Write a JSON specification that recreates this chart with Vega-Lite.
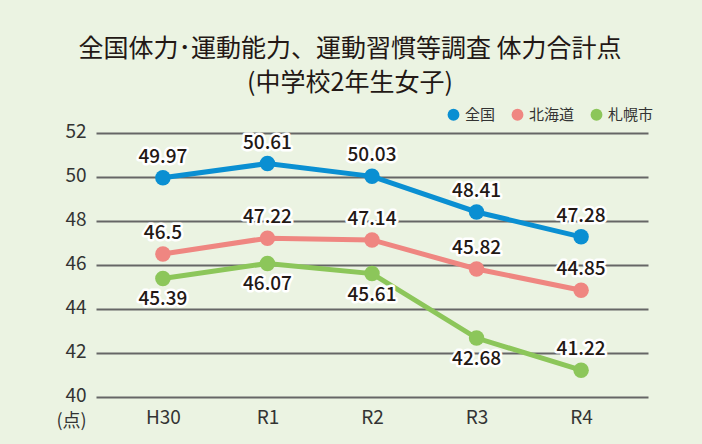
{
  "$schema": "https://vega.github.io/schema/vega-lite/v6.json",
  "autosize": {"type": "none"},
  "width": 552,
  "height": 264,
  "padding": {"left": 96, "top": 133, "right": 54, "bottom": 47},
  "background": "#ebf3e2",
  "config": {
    "font": "Noto Sans CJK JP",
    "view": {"stroke": null}
  },
  "title": {
    "text": ["全国体力･運動能力、運動習慣等調査 体力合計点", "(中学校2年生女子)"],
    "fontSize": 25,
    "fontWeight": "normal",
    "color": "#231815",
    "lineHeight": 34,
    "anchor": "middle",
    "dx": -22,
    "offset": 11
  },
  "data": {
    "values": [
      {"year": "H30", "series": "全国", "value": 49.97},
      {"year": "R1", "series": "全国", "value": 50.61},
      {"year": "R2", "series": "全国", "value": 50.03},
      {"year": "R3", "series": "全国", "value": 48.41},
      {"year": "R4", "series": "全国", "value": 47.28},
      {"year": "H30", "series": "北海道", "value": 46.5},
      {"year": "R1", "series": "北海道", "value": 47.22},
      {"year": "R2", "series": "北海道", "value": 47.14},
      {"year": "R3", "series": "北海道", "value": 45.82},
      {"year": "R4", "series": "北海道", "value": 44.85},
      {"year": "H30", "series": "札幌市", "value": 45.39},
      {"year": "R1", "series": "札幌市", "value": 46.07},
      {"year": "R2", "series": "札幌市", "value": 45.61},
      {"year": "R3", "series": "札幌市", "value": 42.68},
      {"year": "R4", "series": "札幌市", "value": 41.22}
    ]
  },
  "encoding": {
    "x": {
      "field": "year",
      "type": "ordinal",
      "scale": {"type": "point", "padding": 0.64},
      "axis": {
        "title": null,
        "labelAngle": 0,
        "labelFontSize": 19,
        "labelColor": "#333",
        "labelPadding": 11,
        "domain": false,
        "ticks": false,
        "grid": false
      }
    },
    "y": {
      "field": "value",
      "type": "quantitative",
      "scale": {"domain": [40, 52], "nice": false, "zero": false},
      "axis": {
        "values": [40, 42, 44, 46, 48, 50, 52],
        "title": "(点)",
        "titleAngle": 0,
        "titleFontSize": 18,
        "titleFontWeight": "normal",
        "titleColor": "#333",
        "titleAlign": "center",
        "titleBaseline": "middle",
        "titleX": -25,
        "titleY": 288,
        "labelFontSize": 19,
        "labelColor": "#333",
        "labelPadding": 10,
        "labelBaseline": "middle",
        "labelOffset": -2,
        "domain": false,
        "ticks": false,
        "grid": true,
        "gridColor": "#666",
        "gridWidth": 1.8,
        "gridOpacity": 1
      }
    }
  },
  "layer": [
    {
      "mark": {"type": "line", "strokeWidth": 5},
      "encoding": {
        "color": {
          "field": "series",
          "type": "nominal",
          "scale": {"domain": ["全国", "北海道", "札幌市"], "range": ["#0a8fd2", "#ef8681", "#8cc65a"]},
          "legend": {
            "title": null,
            "orient": "none",
            "legendX": 350,
            "legendY": -26,
            "direction": "horizontal",
            "symbolType": "circle",
            "symbolSize": 140,
            "symbolStrokeWidth": 0,
            "labelFontSize": 15,
            "labelColor": "#333",
            "columnPadding": 14,
            "labelOffset": 4
          }
        }
      }
    },
    {
      "mark": {"type": "point", "filled": true, "size": 240, "opacity": 1},
      "encoding": {
        "color": {"field": "series", "type": "nominal", "legend": null}
      }
    },
    {
      "transform": [{"filter": "datum.series != '札幌市' || datum.year == 'R4'"}],
      "mark": {"type": "text", "dy": -21, "fontSize": 19, "fontWeight": 500, "stroke": "white", "strokeWidth": 5, "strokeJoin": "round", "fill": "white"},
      "encoding": {"text": {"field": "value", "type": "quantitative"}}
    },
    {
      "transform": [{"filter": "datum.series != '札幌市' || datum.year == 'R4'"}],
      "mark": {"type": "text", "dy": -21, "fontSize": 19, "fontWeight": 500, "fill": "#231815"},
      "encoding": {"text": {"field": "value", "type": "quantitative"}}
    },
    {
      "transform": [{"filter": "datum.series == '札幌市' && datum.year != 'R4'"}],
      "mark": {"type": "text", "dy": 21, "fontSize": 19, "fontWeight": 500, "stroke": "white", "strokeWidth": 5, "strokeJoin": "round", "fill": "white"},
      "encoding": {"text": {"field": "value", "type": "quantitative"}}
    },
    {
      "transform": [{"filter": "datum.series == '札幌市' && datum.year != 'R4'"}],
      "mark": {"type": "text", "dy": 21, "fontSize": 19, "fontWeight": 500, "fill": "#231815"},
      "encoding": {"text": {"field": "value", "type": "quantitative"}}
    }
  ]
}
